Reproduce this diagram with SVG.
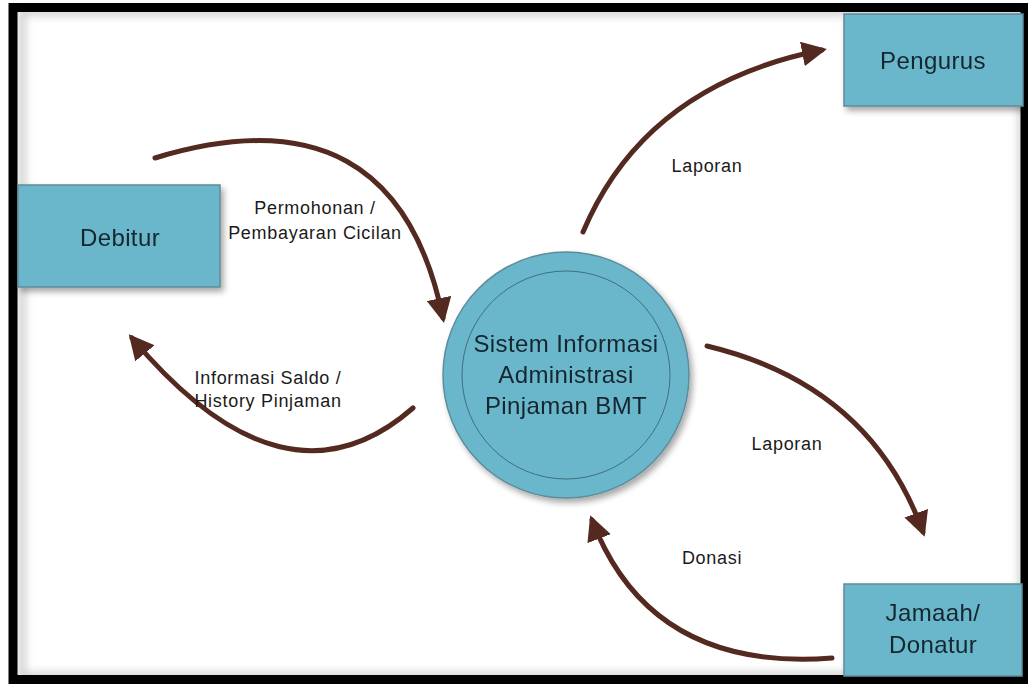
<svg xmlns="http://www.w3.org/2000/svg" width="1028" height="684" viewBox="0 0 1028 684">
<defs>
<style>
.box{fill:#6ab7cb;stroke:#5d8c9a;stroke-width:1.5}
.ntext{font-family:"Liberation Sans",Arial,sans-serif;font-size:24px;letter-spacing:0.4px;fill:#14262f;text-anchor:middle}
.ltext{font-family:"Liberation Sans",Arial,sans-serif;font-size:18px;letter-spacing:0.7px;fill:#1a1a1a;text-anchor:middle}
.flow{fill:none;stroke:#532920;stroke-width:5;stroke-linecap:round}
</style>
<marker id="ah" viewBox="0 0 10 10" refX="8" refY="5" markerWidth="5" markerHeight="5" orient="auto" markerUnits="strokeWidth">
<path d="M0,0 L10,5 L0,10 z" fill="#532920"/>
</marker>
<filter id="sh" x="-10%" y="-10%" width="130%" height="140%">
<feGaussianBlur in="SourceAlpha" stdDeviation="3"/>
<feOffset dx="3" dy="4" result="b"/>
<feComponentTransfer><feFuncA type="linear" slope="0.35"/></feComponentTransfer>
<feMerge><feMergeNode/><feMergeNode in="SourceGraphic"/></feMerge>
</filter>
<filter id="inner" x="-5%" y="-5%" width="110%" height="110%">
<feGaussianBlur stdDeviation="4"/>
</filter>
</defs>
<rect x="0" y="0" width="1028" height="684" fill="#ffffff"/>
<rect x="22" y="12" width="1000" height="664" fill="none" stroke="#9a9a9a" stroke-width="6" filter="url(#inner)" opacity="0.6"/>
<rect x="13" y="7.5" width="1012" height="672" fill="none" stroke="#000000" stroke-width="9"/>

<g id="connectors">
<path class="flow" d="M155,158 Q395,85 443,318" marker-end="url(#ah)"/>
<path class="flow" d="M413,408 Q285,520 132,338" marker-end="url(#ah)"/>
<path class="flow" d="M583,232 Q645,85 822,50" marker-end="url(#ah)"/>
<path class="flow" d="M707,346 Q870,385 923,532" marker-end="url(#ah)"/>
<path class="flow" d="M832,658 Q650,672 592,520" marker-end="url(#ah)"/>
<text class="ltext" x="315" y="214">Permohonan /</text>
<text class="ltext" x="315" y="239">Pembayaran Cicilan</text>
<text class="ltext" x="268" y="384">Informasi Saldo /</text>
<text class="ltext" x="268" y="407">History Pinjaman</text>
<text class="ltext" x="707" y="172">Laporan</text>
<text class="ltext" x="787" y="450">Laporan</text>
<text class="ltext" x="712" y="564">Donasi</text>
</g>

<g id="debitur" filter="url(#sh)">
<rect class="box" x="18" y="185" width="202" height="102"/>
<text class="ntext" x="120" y="246">Debitur</text>
</g>

<g id="pengurus" filter="url(#sh)">
<rect class="box" x="844" y="14" width="179" height="92"/>
<text class="ntext" x="933" y="69">Pengurus</text>
</g>

<g id="jamaah" filter="url(#sh)">
<rect class="box" x="844" y="584" width="178" height="92"/>
<text class="ntext" x="933" y="621">Jamaah/</text>
<text class="ntext" x="933" y="653">Donatur</text>
</g>

<g id="sistem" filter="url(#sh)">
<circle cx="566" cy="375" r="123" fill="#6ab7cb" stroke="#5d8c9a" stroke-width="1.5"/>
<circle cx="566" cy="375" r="104" fill="none" stroke="#3f6f7d" stroke-width="1"/>
<text class="ntext" x="566" y="352">Sistem Informasi</text>
<text class="ntext" x="566" y="383">Administrasi</text>
<text class="ntext" x="566" y="414">Pinjaman BMT</text>
</g>
</svg>
